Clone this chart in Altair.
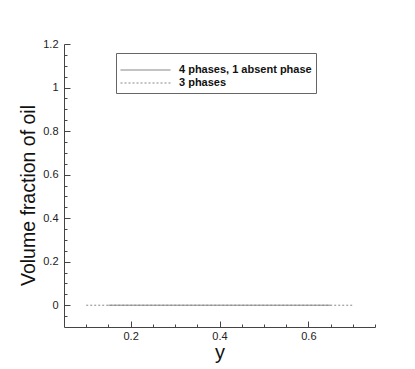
import altair as alt
import pandas as pd

series_names = ["4 phases, 1 absent phase", "3 phases"]
x_four = [0.15, 0.2, 0.3, 0.4, 0.5, 0.6, 0.65]
y_four = [0, 0, 0, 0, 0, 0, 0]
x_three = [0.1, 0.2, 0.3, 0.4, 0.5, 0.6, 0.7]
y_three = [0, 0, 0, 0, 0, 0, 0]
x_ticks = [0.2, 0.4, 0.6]
y_ticks = [0, 0.2, 0.4, 0.6, 0.8, 1, 1.2]
x_minor = [0.1, 0.15, 0.2, 0.25, 0.3, 0.35, 0.4, 0.45, 0.5, 0.55, 0.6, 0.65, 0.7, 0.75]
y_minor = [-0.05, 0, 0.05, 0.1, 0.15, 0.2, 0.25, 0.3, 0.35, 0.4, 0.45, 0.5, 0.55, 0.6,
           0.65, 0.7, 0.75, 0.8, 0.85, 0.9, 0.95, 1, 1.05, 1.1, 1.15, 1.2]

rows = []
for x, y in zip(x_four, y_four):
    rows.append({"y": x, "v": y, "s": series_names[0]})
for x, y in zip(x_three, y_three):
    rows.append({"y": x, "v": y, "s": series_names[1]})
df = pd.DataFrame(rows)

FONT = "Liberation Sans"


def major_test(ticks):
    return "indexof(" + str(ticks) + ", round(datum.value*100)/100) >= 0"


xenc = alt.X("y:Q", title="y",
             scale=alt.Scale(domain=[0.05, 0.75], nice=False, zero=False),
             axis=alt.Axis(values=x_minor,
                           labelExpr=major_test(x_ticks) + " ? datum.label : ''",
                           format="~g", grid=False,
                           tickSize={"expr": major_test(x_ticks) + " ? -6 : -3"},
                           tickColor="#444", domainColor="#444",
                           labelFont=FONT, labelFontSize=11, labelColor="#222", labelPadding=9,
                           titleFont=FONT, titleFontSize=20, titleFontWeight="normal", titleColor="#111",
                           titleX=155.5, titleY=15))
yenc = alt.Y("v:Q", title="Volume fraction of oil",
             scale=alt.Scale(domain=[-0.1, 1.2], nice=False, zero=False),
             axis=alt.Axis(values=y_minor,
                           labelExpr=major_test(y_ticks) + " ? datum.label : ''",
                           format="~g", grid=False,
                           tickSize={"expr": major_test(y_ticks) + " ? -6 : -3"},
                           tickColor="#444", domainColor="#444",
                           labelFont=FONT, labelFontSize=11, labelColor="#222", labelPadding=12,
                           titleFont=FONT, titleFontSize=19.5, titleFontWeight="normal", titleColor="#111",
                           titleX=-26, titleY=151))

chart = alt.Chart(df).mark_line(strokeWidth=1).encode(
    x=xenc,
    y=yenc,
    color=alt.Color("s:N", scale=alt.Scale(domain=series_names, range=["#777777", "#888888"]),
                    legend=alt.Legend(title=" ", titleFontSize=4, titlePadding=3,
                                      orient="none", legendX=52, legendY=9,
                                      symbolType="stroke", symbolSize=2500, symbolStrokeWidth=1,
                                      clipHeight=12, labelFont=FONT, labelFontSize=11,
                                      labelFontWeight="bold", labelColor="#111", labelOffset=8,
                                      padding=4, strokeColor="#666", fillColor="white",
                                      rowPadding=1, labelLimit=300)),
    strokeDash=alt.StrokeDash("s:N", scale=alt.Scale(domain=series_names, range=[[1, 0], [2, 2]]),
                              legend=None),
).properties(
    width=311, height=283,
    autosize=alt.AutoSizeParams(type="none"),
    padding={"left": 56, "top": 36, "right": 32, "bottom": 42},
).configure_view(stroke=None)

chart.save("out.html", embed_options={"renderer": "svg", "actions": False})
